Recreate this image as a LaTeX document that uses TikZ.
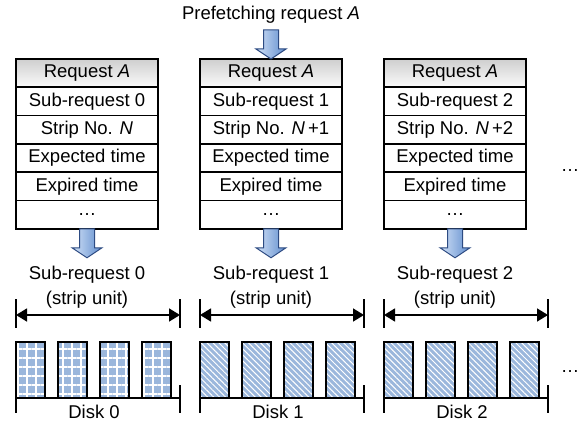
\documentclass[tikz,border=0pt]{standalone}
\usepackage{fontspec}
\setmainfont{Liberation Sans}
\usetikzlibrary{positioning, arrows.meta, patterns.meta}
\definecolor{disk_blue}{RGB}{155, 183, 220}
\definecolor{arrow_light}{RGB}{210, 226, 247}
\definecolor{arrow_dark}{RGB}{95, 140, 205}
\definecolor{arrow_edge}{RGB}{45, 75, 130}

\tikzset{
    cell/.style={draw, line width=0.8pt, minimum width=71pt, minimum height=14.15pt, inner sep=0pt, outer sep=0pt},
    headcell/.style={cell, top color=gray!38, bottom color=gray!3},
    blockarrow/.pic={\draw[line width=0.5pt, draw=arrow_edge, left color=arrow_light, right color=arrow_dark]
        (-7.5,0) -- (-7.5,19) -- (-15,19) -- (0,29) -- (15,19) -- (7.5,19) -- (7.5,0) -- cycle;},
    gridfill/.style={preaction={fill=disk_blue}, preaction={pattern={Hatch[distance=4.5pt, line width=0.6pt]}, pattern color=white}},
    diagfill/.style={preaction={fill=disk_blue}, preaction={pattern={Lines[angle=-45, distance=2.1pt, line width=0.5pt]}, pattern color=white}},
    span/.style={line width=0.8pt, {Triangle[length=5.5pt, width=6.5pt]}-{Triangle[length=5.5pt, width=6.5pt]}},
}

\begin{document}
\begin{tikzpicture}[x=0.5pt, y=-0.5pt, font=\fontsize{9.25}{12.5}\selectfont]
    \useasboundingbox (0,0) rectangle (581,421);

    % Incoming request
    \node[anchor=base] (prefetch) at (271,20) {Prefetching request \textit{A}};

    \foreach \i/\sfx in {0/{}, 1/{\,+1}, 2/{\,+2}} {
        % Request table
        \node[headcell] (req\i) at ({87+184*\i},73.15) {Request \textit{A}};
        \node[cell, below=0pt of req\i] (sub\i) {Sub-request \i};
        \node[cell, below=0pt of sub\i] (strip\i) {Strip No. \textit{N}\sfx};
        \node[cell, below=0pt of strip\i] (expect\i) {Expected time};
        \node[cell, below=0pt of expect\i] (expire\i) {Expired time};
        \node[cell, below=0pt of expire\i] (more\i) {\dots};
        \pic at (more\i.south) {blockarrow};

        % Strip unit
        \node[align=center] (unit\i) at ({87+184*\i},287) {Sub-request \i\\(strip unit)};
        \coordinate (uL\i) at ({16+184*\i},315);
        \coordinate (uR\i) at ({180+184*\i},315);
        \draw[span] (uL\i) -- (uR\i);
        \draw[line width=0.8pt] (uL\i) ++(0,-16) -- ++(0,29);
        \draw[line width=0.8pt] (uR\i) ++(0,-16) -- ++(0,29);

        % Disk
        \coordinate (dL\i) at ({16+184*\i},398);
        \coordinate (dR\i) at ({180+184*\i},398);
        \draw[line width=0.8pt] (dL\i) -- (dR\i);
        \draw[line width=0.8pt] (dL\i) ++(0,-13) -- ++(0,28);
        \draw[line width=0.8pt] (dR\i) ++(0,-13) -- ++(0,28);
        \node[anchor=base] (disk\i) at ({94+184*\i},418) {Disk \i};
    }
    \pic at ([yshift=14.5pt]req1.north) {blockarrow};

    % Strip blocks
    \foreach \i/\pat in {0/gridfill, 1/diagfill, 2/diagfill}
        \foreach \j in {0,...,3}
            \draw[line width=0.8pt, \pat] ({16+184*\i+42*\j},342) rectangle ++(29,56);

    % More disks
    \node[anchor=base] (moreT) at (570,172) {\dots};
    \node[anchor=base] (moreB) at (570,372) {\dots};
\end{tikzpicture}
\end{document}
